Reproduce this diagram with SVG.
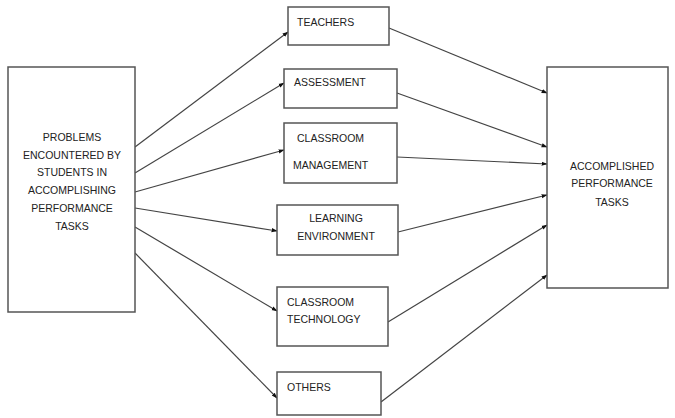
<svg xmlns="http://www.w3.org/2000/svg" width="675" height="418" viewBox="0 0 675 418">
<defs>
<marker id="ah" viewBox="0 0 10 10" refX="9" refY="5" markerWidth="6" markerHeight="6" orient="auto" markerUnits="userSpaceOnUse">
<path d="M0,1.5 L10,5 L0,8.5 z" fill="#111"/>
</marker>
<style>
.box{fill:#fff;stroke:#555;stroke-width:1.5}
.t{font-family:"Liberation Sans",Arial,sans-serif;font-size:10.5px;fill:#222}
.c{text-anchor:middle}
.ln{stroke:#444;stroke-width:1.2;fill:none;marker-end:url(#ah)}
</style>
</defs>
<rect width="675" height="418" fill="#fff"/>
<g id="connectors">
<line class="ln" x1="135" y1="147" x2="288" y2="32"/>
<line class="ln" x1="135" y1="173" x2="284" y2="83"/>
<line class="ln" x1="135" y1="192" x2="284" y2="150"/>
<line class="ln" x1="135" y1="208" x2="277" y2="231"/>
<line class="ln" x1="135" y1="227" x2="277" y2="311"/>
<line class="ln" x1="135" y1="253" x2="277" y2="398"/>
<line class="ln" x1="389" y1="28" x2="547" y2="93"/>
<line class="ln" x1="397" y1="93" x2="547" y2="147"/>
<line class="ln" x1="397" y1="157" x2="547" y2="164"/>
<line class="ln" x1="398" y1="232" x2="547" y2="195"/>
<line class="ln" x1="388" y1="322" x2="547" y2="225"/>
<line class="ln" x1="381" y1="402" x2="547" y2="275"/>
</g>
<g id="problems">
<rect class="box" x="8" y="67" width="127" height="245"/>
<text class="t c" x="72" y="141">PROBLEMS</text>
<text class="t c" x="72" y="159">ENCOUNTERED BY</text>
<text class="t c" x="72" y="176">STUDENTS IN</text>
<text class="t c" x="72" y="194">ACCOMPLISHING</text>
<text class="t c" x="72" y="212">PERFORMANCE</text>
<text class="t c" x="72" y="230">TASKS</text>
</g>
<g id="teachers">
<rect class="box" x="288" y="7" width="101" height="38"/>
<text class="t" x="297" y="26">TEACHERS</text>
</g>
<g id="assessment">
<rect class="box" x="284" y="69" width="113" height="39"/>
<text class="t" x="294" y="86">ASSESSMENT</text>
</g>
<g id="classroom-management">
<rect class="box" x="284" y="123" width="113" height="60"/>
<text class="t" x="297" y="142">CLASSROOM</text>
<text class="t" x="293" y="169">MANAGEMENT</text>
</g>
<g id="learning-environment">
<rect class="box" x="277" y="205" width="121" height="50"/>
<text class="t c" x="336" y="222">LEARNING</text>
<text class="t c" x="336" y="240">ENVIRONMENT</text>
</g>
<g id="classroom-technology">
<rect class="box" x="277" y="287" width="111" height="59"/>
<text class="t" x="287" y="306">CLASSROOM</text>
<text class="t" x="287" y="323">TECHNOLOGY</text>
</g>
<g id="others">
<rect class="box" x="277" y="372" width="104" height="43"/>
<text class="t" x="287" y="391">OTHERS</text>
</g>
<g id="accomplished">
<rect class="box" x="547" y="67" width="121" height="221"/>
<text class="t c" x="612" y="170">ACCOMPLISHED</text>
<text class="t c" x="612" y="187">PERFORMANCE</text>
<text class="t c" x="612" y="206">TASKS</text>
</g>
</svg>
